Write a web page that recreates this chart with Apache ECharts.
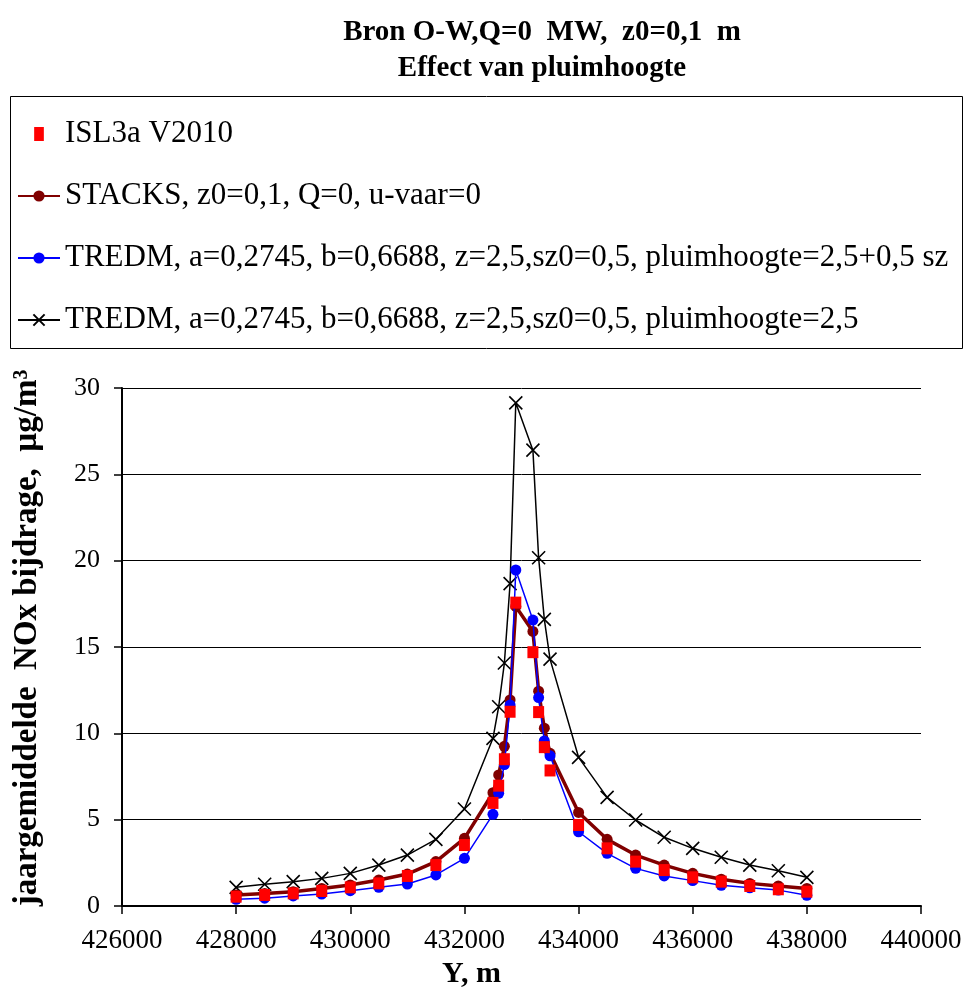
<!DOCTYPE html>
<html>
<head>
<meta charset="utf-8">
<script src="https://cdn.jsdelivr.net/npm/echarts@6/dist/echarts.min.js"></script>
<style>
  html, body { margin: 0; padding: 0; background: #fff; }
  #chart { width: 966px; height: 991px; }
</style>
</head>
<body>
<div id="chart"></div>
<script>
// Receptor positions along Y (m)
const yPositions = [428000, 428500, 429000, 429500, 430000, 430500, 431000, 431500, 432000,
  432500, 432600, 432700, 432800, 432900, 433200, 433300, 433400, 433500,
  434000, 434500, 435000, 435500, 436000, 436500, 437000, 437500, 438000];

// Annual mean NOx contribution (µg/m³) per model
const isl3a = [0.54, 0.64, 0.73, 0.87, 1.08, 1.31, 1.74, 2.37, 3.53,
  5.97, 6.97, 8.50, 11.25, 17.57, 14.70, 11.23, 9.20, 7.85,
  4.69, 3.34, 2.57, 2.08, 1.66, 1.41, 1.16, 0.97, 0.83];
const stacks = [0.64, 0.73, 0.83, 1.02, 1.22, 1.51, 1.85, 2.57, 3.92,
  6.56, 7.59, 9.25, 11.93, 17.35, 15.90, 12.44, 10.30, 8.84,
  5.42, 3.86, 2.95, 2.37, 1.89, 1.55, 1.31, 1.16, 1.02];
const tredmPlume = [0.39, 0.45, 0.58, 0.69, 0.89, 1.08, 1.27, 1.80, 2.76,
  5.31, 6.53, 8.19, 11.64, 19.46, 16.56, 12.07, 9.56, 8.70,
  4.30, 3.05, 2.18, 1.74, 1.47, 1.20, 1.05, 0.92, 0.62];
const tredmFixed = [1.08, 1.26, 1.41, 1.60, 1.89, 2.37, 2.95, 3.86, 5.62,
  9.71, 11.54, 14.07, 18.67, 29.14, 26.40, 20.17, 16.60, 14.30,
  8.61, 6.29, 4.98, 3.98, 3.34, 2.82, 2.37, 2.04, 1.66];

const seriesNames = [
  'ISL3a V2010',
  'STACKS, z0=0,1, Q=0, u-vaar=0',
  'TREDM, a=0,2745, b=0,6688, z=2,5,sz0=0,5, pluimhoogte=2,5+0,5 sz',
  'TREDM, a=0,2745, b=0,6688, z=2,5,sz0=0,5, pluimhoogte=2,5'
];

const titleLines = ['Bron O-W,Q=0  MW,  z0=0,1  m', 'Effect van pluimhoogte'];
const xAxisName = 'Y, m';
const yAxisName = 'jaargemiddelde  NOx bijdrage,  µg/m³';

const pair = (vals) => yPositions.map((x, i) => [x, vals[i]]);
const serif = 'Liberation Serif, Times New Roman, serif';

const chart = echarts.init(document.getElementById('chart'), null, { renderer: 'canvas' });

chart.setOption({
  backgroundColor: '#fff',
  animation: false,
  title: {
    text: titleLines.join('\n'),
    left: 537,
    textAlign: 'center',
    top: 10,
    textStyle: {
      fontFamily: serif, fontWeight: 'bold', fontSize: 29, lineHeight: 36, color: '#000'
    }
  },
  graphic: [{
    type: 'rect',
    shape: { x: 10.5, y: 96.5, width: 952, height: 252 },
    style: { fill: 'none', stroke: '#000', lineWidth: 1 },
    silent: true
  }],
  legend: {
    orient: 'vertical',
    left: 12,
    top: 113,
    itemWidth: 42,
    itemHeight: 14,
    itemGap: 30,
    symbolKeepAspect: true,
    textStyle: { fontFamily: serif, fontSize: 31, lineHeight: 32, color: '#000' },
    data: [
      { name: seriesNames[0], icon: 'path://M0,0H9V13H0Z' },
      { name: seriesNames[1] },
      { name: seriesNames[2] },
      { name: seriesNames[3] }
    ]
  },
  grid: { left: 122, right: 45, top: 388, bottom: 85, containLabel: false, outerBoundsMode: 'none' },
  xAxis: {
    type: 'value',
    min: 426000, max: 440000, interval: 2000,
    name: xAxisName,
    nameLocation: 'middle',
    nameGap: 52,
    nameTextStyle: { fontFamily: serif, fontWeight: 'bold', fontSize: 30, color: '#000', padding: [0, 100, 0, 0] },
    axisLine: { onZero: false, lineStyle: { color: '#000', width: 2 } },
    axisTick: { show: true, inside: false, length: 8, lineStyle: { color: '#000', width: 1.5 } },
    axisLabel: { fontFamily: serif, fontSize: 27, color: '#000', margin: 21, formatter: (v) => String(v) },
    splitLine: { show: false }
  },
  yAxis: {
    type: 'value',
    min: 0, max: 30, interval: 5,
    name: yAxisName,
    nameLocation: 'middle',
    nameRotate: 90,
    nameGap: 78,
    nameTextStyle: { fontFamily: serif, fontWeight: 'bold', fontSize: 33, color: '#000', padding: [0, 0, 0, 18] },
    axisLine: { show: true, lineStyle: { color: '#000', width: 2 } },
    axisTick: { show: true, inside: false, length: 8, lineStyle: { color: '#000', width: 1.5 } },
    axisLabel: { fontFamily: serif, fontSize: 26, color: '#000', margin: 22 },
    splitLine: { show: true, lineStyle: { color: '#000', width: 1 } }
  },
  series: [
    {
      name: seriesNames[3],
      type: 'line',
      data: pair(tredmFixed),
      symbol: 'path://M0,0L10,10M10,0L0,10',
      symbolSize: 13,
      lineStyle: { color: '#000', width: 1.5 },
      itemStyle: { color: '#000', borderColor: '#000', borderWidth: 1.6 },
      z: 2
    },
    {
      name: seriesNames[1],
      type: 'line',
      data: pair(stacks),
      symbol: 'circle',
      symbolSize: 11,
      lineStyle: { color: '#800000', width: 3.5 },
      itemStyle: { color: '#800000', borderWidth: 0 },
      z: 3
    },
    {
      name: seriesNames[2],
      type: 'line',
      data: pair(tredmPlume),
      symbol: 'circle',
      symbolSize: 11,
      lineStyle: { color: '#0000ff', width: 1.5 },
      itemStyle: { color: '#0000ff', borderWidth: 0 },
      z: 4
    },
    {
      name: seriesNames[0],
      type: 'scatter',
      data: pair(isl3a),
      symbol: 'rect',
      symbolSize: [11, 12],
      itemStyle: { color: '#ff0000', opacity: 1 },
      z: 5
    }
  ]
});
</script>
</body>
</html>
